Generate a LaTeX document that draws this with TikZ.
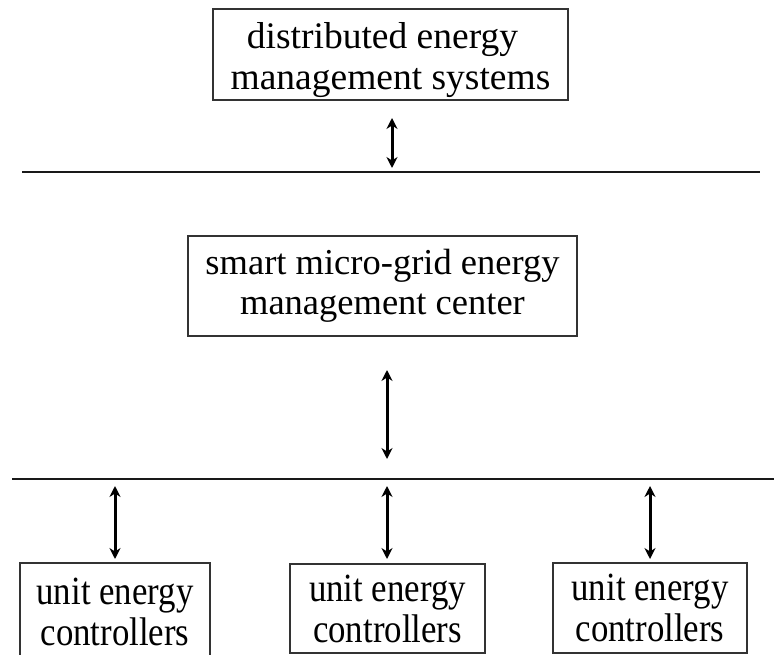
\documentclass[tikz,border=0pt]{standalone}
\usepackage{fontspec}
\setmainfont{Liberation Serif}
\usetikzlibrary{arrows.meta}
\tikzset{
  box/.style={draw=black!80, line width=1.1pt, inner sep=0pt, align=center, anchor=center},
  lbl/.style={inner sep=0pt, align=center, anchor=center},
  bus/.style={line width=2.2pt, draw=black!90},
  link/.style={line width=3pt, {Stealth[length=11pt,width=11pt]}-{Stealth[length=11pt,width=11pt]}},
  ttxt/.style={font=\fontsize{37.5}{41}\selectfont},
  mtxt/.style={font=\fontsize{36.5}{40}\selectfont},
  utxt/.style={font=\fontsize{40}{41}\selectfont}
}
\newcommand{\cnd}[1]{\scalebox{0.87}[1]{#1}}
\begin{document}
\begin{tikzpicture}[x=1pt,y=-1pt]
\useasboundingbox (0,0) rectangle (774,655);
% boxes
\node[box, minimum width=355pt, minimum height=91pt] (dems) at (390.5,54.5) {};
\node[lbl, ttxt] (demst) at (390.5,60) {distributed energy\hspace*{16pt}\\management systems};
\node[box, mtxt, minimum width=389pt, minimum height=100pt] (mgc) at (382.5,286) {smart micro-grid energy\\management center};
\node[box, utxt, minimum width=190pt, minimum height=98pt] (u1) at (115,612) {\cnd{unit energy}\\\cnd{controllers}};
\node[box, utxt, minimum width=195pt, minimum height=89pt] (u2) at (387.5,608.5) {\cnd{unit energy}\\\cnd{controllers}};
\node[box, utxt, minimum width=194pt, minimum height=90pt] (u3) at (650,608) {\cnd{unit energy}\\\cnd{controllers}};
% buses
\coordinate (b1l) at (22,172);
\coordinate (b1r) at (760,172);
\coordinate (b2l) at (12,479);
\coordinate (b2r) at (774,479);
\draw[bus] (b1l) -- (b1r);
\draw[bus] (b2l) -- (b2r);
% arrow endpoints
\coordinate (a1t) at (392,118);
\coordinate (a1b) at (392,168);
\coordinate (a2t) at (387,370);
\coordinate (a2b) at (387,459);
\coordinate (a3t) at (115,486);
\coordinate (a3b) at (115,559);
\coordinate (a4t) at (387,486);
\coordinate (a4b) at (387,559);
\coordinate (a5t) at (650,486);
\coordinate (a5b) at (650,559);
\draw[link] (a1t) -- (a1b);
\draw[link] (a2t) -- (a2b);
\draw[link] (a3t) -- (a3b);
\draw[link] (a4t) -- (a4b);
\draw[link] (a5t) -- (a5b);
\end{tikzpicture}
\end{document}
